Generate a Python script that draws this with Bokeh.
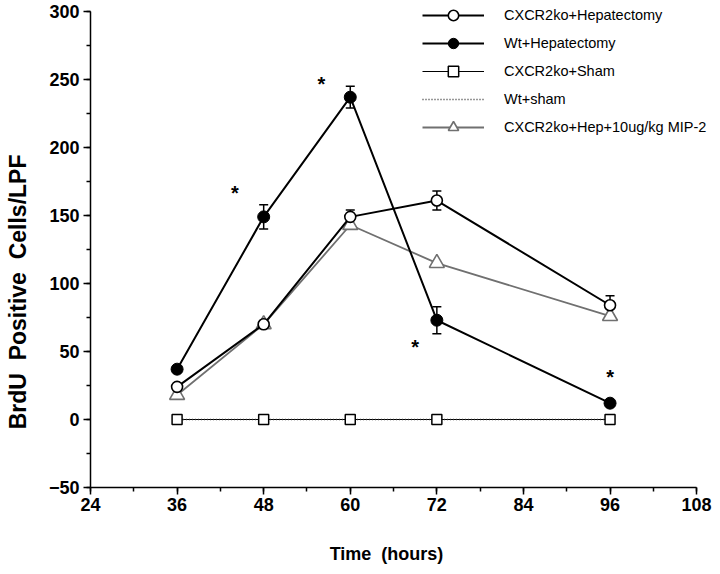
from bokeh.plotting import figure
from bokeh.models import (Legend, LegendItem, ColumnDataSource, Whisker, TeeHead,
                          FixedTicker, Range1d)
from bokeh.core.properties import value
from bokeh.embed import file_html
from bokeh.resources import INLINE

# ---- data ----
time = [36, 48, 60, 72, 96]
ko_hep = [24, 70, 149, 161, 84]
ko_hep_err = [0, 0, 5, 7, 7]
wt_hep = [37, 149, 237, 73, 12]
wt_hep_err = [0, 9, 8, 10, 0]
ko_sham = [0, 0, 0, 0, 0]
wt_sham = [0, 0, 0, 0, 0]
ko_mip2 = [18, 70, 143, 115, 76]
star_x = [44, 56, 69, 96]
star_y = [168, 248, 55, 33]
x_ticks = [24, 36, 48, 60, 72, 84, 96, 108]
y_ticks = [-50, 0, 50, 100, 150, 200, 250, 300]

FONT = "Liberation Sans"
NB = "\u00a0"

p = figure(width=712, height=566, output_backend="svg", toolbar_location=None,
           x_range=Range1d(24, 110.2), y_range=Range1d(-50, 308.1),
           min_border_left=90, min_border_right=0, min_border_top=0, min_border_bottom=79)
p.outline_line_color = None
p.xgrid.visible = False
p.ygrid.visible = False
p.background_fill_color = "white"

for ax in (p.xaxis[0], p.yaxis[0]):
    ax.axis_line_width = 1.5
    ax.axis_line_color = "black"
    ax.major_tick_line_width = 1.5
    ax.minor_tick_line_width = 1.5
    ax.major_tick_in = 0
    ax.major_tick_out = 7
    ax.minor_tick_in = 0
    ax.minor_tick_out = 4
    ax.major_label_text_font = FONT
    ax.major_label_text_font_style = "bold"
    ax.major_label_text_font_size = "18px"
    ax.major_label_text_color = "black"
    ax.axis_label_text_font = FONT
    ax.axis_label_text_font_style = "bold"
    ax.axis_label_text_color = "black"

p.xaxis.bounds = (24, 108)
p.yaxis.bounds = (-50, 300)
p.xaxis.ticker = FixedTicker(ticks=x_ticks, minor_ticks=list(range(24, 109, 6)))
p.yaxis.ticker = FixedTicker(ticks=y_ticks, minor_ticks=list(range(-50, 301, 25)))
p.xaxis.major_label_standoff = 3
p.yaxis.major_label_standoff = 4

p.xaxis.axis_label = "Time" + NB * 2 + "(hours)" + NB * 6
p.xaxis.axis_label_text_font_size = "18px"
p.xaxis.axis_label_standoff = 30
p.yaxis.axis_label = "BrdU" + NB * 2 + "Positive" + NB * 2 + "Cells/LPF" + NB * 15
p.yaxis.axis_label_text_font_size = "23px"
p.yaxis.axis_label_standoff = 15

src_ko = ColumnDataSource(dict(x=time, y=ko_hep,
                               lo=[a - b for a, b in zip(ko_hep, ko_hep_err)],
                               hi=[a + b for a, b in zip(ko_hep, ko_hep_err)]))
src_wt = ColumnDataSource(dict(x=time, y=wt_hep,
                               lo=[a - b for a, b in zip(wt_hep, wt_hep_err)],
                               hi=[a + b for a, b in zip(wt_hep, wt_hep_err)]))

# MIP-2 (gray)
l_mip = p.line(time, ko_mip2, line_color="#707070", line_width=1.8)
s_mip = p.scatter(time, ko_mip2, marker="triangle", size=15, fill_color="white",
                  line_color="#707070", line_width=1.6)

# shams
l_kosham = p.line(time, ko_sham, line_color="black", line_width=1.2)
l_wtsham = p.line(time, wt_sham, line_color="#333333", line_width=1.4, line_dash="1 2")
s_kosham = p.scatter(time, ko_sham, marker="square", size=10, fill_color="white",
                     line_color="black", line_width=1.5)

# KO hep
l_ko = p.line("x", "y", source=src_ko, line_color="black", line_width=2)
p.add_layout(Whisker(source=src_ko, base="x", lower="lo", upper="hi",
                     line_width=1.5,
                     upper_head=TeeHead(size=9, line_width=1.5),
                     lower_head=TeeHead(size=9, line_width=1.5)))
s_ko = p.scatter("x", "y", source=src_ko, marker="circle", size=11, fill_color="white",
                 line_color="black", line_width=1.6)

# WT hep
l_wt = p.line("x", "y", source=src_wt, line_color="black", line_width=2)
p.add_layout(Whisker(source=src_wt, base="x", lower="lo", upper="hi",
                     line_width=1.5,
                     upper_head=TeeHead(size=9, line_width=1.5),
                     lower_head=TeeHead(size=9, line_width=1.5)))
s_wt = p.scatter("x", "y", source=src_wt, marker="circle", size=12, fill_color="black",
                 line_color="black")

# significance stars
p.text(star_x, star_y, text=["*"] * len(star_x), text_font=value(FONT),
       text_font_style="bold", text_font_size="20px", text_align="center",
       text_baseline="middle", y_offset=2, text_color="black")

legend = Legend(items=[
    LegendItem(label="CXCR2ko+Hepatectomy", renderers=[l_ko, s_ko]),
    LegendItem(label="Wt+Hepatectomy", renderers=[l_wt, s_wt]),
    LegendItem(label="CXCR2ko+Sham", renderers=[l_kosham, s_kosham]),
    LegendItem(label="Wt+sham", renderers=[l_wtsham]),
    LegendItem(label="CXCR2ko+Hep+10ug/kg MIP-2", renderers=[l_mip, s_mip]),
], location=(332, 347))
legend.border_line_color = None
legend.background_fill_alpha = 0
legend.padding = 0
legend.margin = 0
legend.spacing = 2
legend.glyph_width = 62
legend.glyph_height = 26
legend.label_height = 26
legend.label_standoff = 20
legend.label_text_font = FONT
legend.label_text_font_size = "14.5px"
legend.label_text_color = "black"
p.add_layout(legend)

open("out.html", "w").write(file_html(p, INLINE))
